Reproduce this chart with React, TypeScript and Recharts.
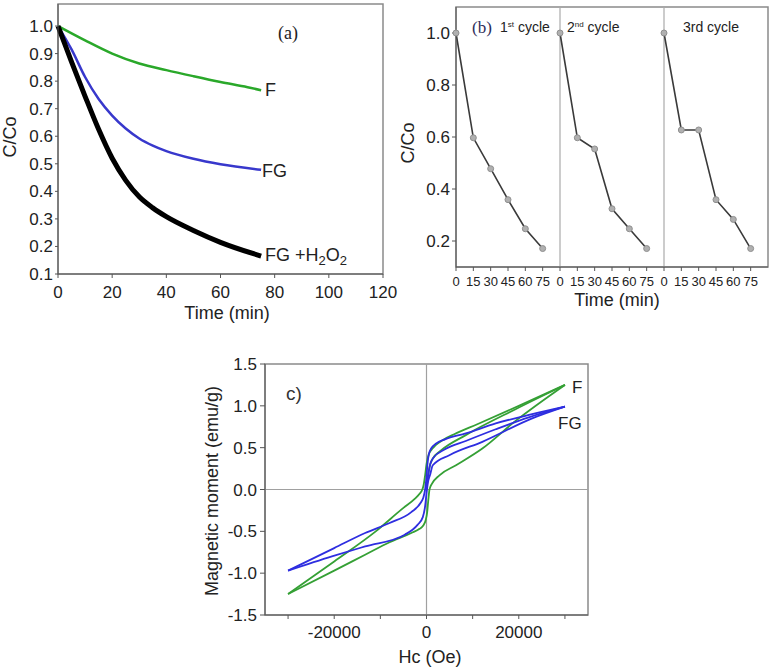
import React from 'react';
import { LineChart, Line, XAxis, YAxis, ReferenceArea, ReferenceLine } from 'recharts';

// ---------- Panel (a): degradation curves ----------
const A_F_TIME = [0, 10, 20, 30, 40, 50, 60, 70, 75];
const A_F_VAL = [1.0, 0.948, 0.9, 0.864, 0.84, 0.818, 0.797, 0.778, 0.767];
const A_FG_TIME = [0, 5, 10, 15, 20, 25, 30, 35, 40, 50, 60, 75];
const A_FG_VAL = [1.0, 0.915, 0.815, 0.735, 0.675, 0.628, 0.592, 0.566, 0.546, 0.518, 0.498, 0.478];
const A_FGH_TIME = [0, 5, 10, 15, 20, 25, 30, 35, 40, 50, 60, 75];
const A_FGH_VAL = [1.0, 0.87, 0.745, 0.625, 0.52, 0.44, 0.38, 0.34, 0.308, 0.258, 0.215, 0.165];
const A_X_TICKS = [0, 20, 40, 60, 80, 100, 120];
const A_Y_TICKS = [0.1, 0.2, 0.3, 0.4, 0.5, 0.6, 0.7, 0.8, 0.9, 1.0];

// ---------- Panel (b): recycling ----------
const B_TIME = [0, 15, 30, 45, 60, 75];
const B_CYCLE1 = [1.0, 0.597, 0.478, 0.359, 0.247, 0.171];
const B_CYCLE2 = [1.0, 0.597, 0.554, 0.324, 0.247, 0.171];
const B_CYCLE3 = [1.0, 0.627, 0.627, 0.359, 0.283, 0.171];
const B_CYCLE_SPAN = 90;
const B_Y_TICKS = [0.2, 0.4, 0.6, 0.8, 1.0];

// ---------- Panel (c): hysteresis loops ----------
const F_DESC_H = [-30000, -20000, -11000, -5000, -2500, -1500, -900, -600, -300, 0, 200, 500, 1000, 2000, 3500, 6000, 11000, 20000, 30000];
const F_DESC_M = [-1.25, -0.86, -0.5, -0.22, -0.11, -0.05, 0.0, 0.06, 0.17, 0.3, 0.36, 0.42, 0.47, 0.53, 0.59, 0.66, 0.78, 1.0, 1.25];
const F_ASC_H = [-30000, -20000, -13300, -8000, -3300, -1500, -700, -200, 150, 400, 650, 1200, 2800, 6400, 12100, 19300, 30000];
const F_ASC_M = [-1.25, -0.97, -0.78, -0.63, -0.52, -0.47, -0.43, -0.37, -0.27, -0.12, 0.0, 0.07, 0.17, 0.29, 0.49, 0.82, 1.25];
const F_INIT_H = [0, 300, 700, 1360, 3000, 8500, 19300, 30000];
const F_INIT_M = [0, 0.15, 0.28, 0.37, 0.46, 0.65, 0.96, 1.25];
const FG_DESC_H = [-30000, -20000, -13300, -8000, -3300, -1150, -700, -300, 0, 200, 500, 1000, 2100, 4000, 8500, 15000, 22900, 30000];
const FG_DESC_M = [-0.97, -0.7, -0.52, -0.4, -0.27, -0.15, -0.1, 0.0, 0.15, 0.3, 0.42, 0.49, 0.55, 0.6, 0.67, 0.79, 0.9, 0.99];
const FG_ASC_H = [-30000, -20500, -13300, -4700, -1900, -800, -300, 0, 300, 800, 1360, 4950, 12100, 22900, 30000];
const FG_ASC_M = [-0.97, -0.8, -0.68, -0.54, -0.42, -0.33, -0.2, -0.05, 0.08, 0.18, 0.29, 0.41, 0.57, 0.85, 0.99];
const FG_INIT_H = [0, 300, 800, 1500, 4000, 8500, 15000, 22000, 30000];
const FG_INIT_M = [0, 0.15, 0.3, 0.38, 0.48, 0.58, 0.72, 0.86, 0.99];
const C_X_TICKS = [-30000, -20000, -10000, 0, 10000, 20000, 30000];
const C_Y_TICKS = [-1.5, -1.0, -0.5, 0, 0.5, 1.0, 1.5];

const zip = (xs: number[], ys: number[]) => xs.map((x, i) => ({ x, y: ys[i] }));

const SANS = "Arial, 'Liberation Sans', Helvetica, sans-serif";
const SERIF = "'Times New Roman', 'Liberation Serif', serif";
const GREEN_A = '#2aa82a';
const BLUE_A = '#3838cc';
const GREEN_C = '#35a035';
const BLUE_C = '#2e2ee0';
const AXIS = '#555';
const FRAME = '#8a8a8a';

const tickStyle = (size: number) => ({ fill: '#222', fontSize: size, fontFamily: SANS });

const Txt: React.FC<{ x: number; y: number; size: number; rotate?: boolean; family?: string; color?: string; children: React.ReactNode; anchor?: 'left' | 'center' }> = ({ x, y, size, rotate, family, color, children, anchor = 'left' }) => (
  <div
    style={{
      position: 'absolute',
      left: x,
      top: y,
      fontSize: size,
      fontFamily: family || SANS,
      color: color || '#222',
      lineHeight: 1,
      whiteSpace: 'nowrap',
      transform: anchor === 'center' ? `translate(-50%, -50%)${rotate ? ' rotate(-90deg)' : ''}` : 'translate(0, -50%)',
    }}
  >
    {children}
  </div>
);

export default function App() {
  const bTicks: number[] = [];
  [0, 1, 2].forEach((c) => B_TIME.forEach((t) => bTicks.push(c * B_CYCLE_SPAN + t)));
  const cycles = [B_CYCLE1, B_CYCLE2, B_CYCLE3].map((vals, c) => B_TIME.map((t, i) => ({ x: c * B_CYCLE_SPAN + t, y: vals[i] })));

  return (
    <div style={{ position: 'absolute', left: 0, top: 0, width: 780, height: 671, background: '#fff', overflow: 'hidden' }}>
      {/* Panel (a) */}
      <div style={{ position: 'absolute', left: 0, top: 0 }}>
        <LineChart width={400} height={330} margin={{ top: 4, right: 17, bottom: 26, left: 0 }}>
          <XAxis type="number" dataKey="x" domain={[0, 120]} ticks={A_X_TICKS} height={30} tickSize={4} tickMargin={8}
            stroke={AXIS} tick={tickStyle(17)} interval={0} />
          <YAxis type="number" dataKey="y" domain={[0.1, 1.08]} ticks={A_Y_TICKS} width={58} tickSize={3} tickMargin={2}
            stroke={AXIS} tick={tickStyle(17)} interval={0} tickFormatter={(v: number) => v.toFixed(1)} allowDataOverflow />
          <ReferenceArea x1={0} x2={120} y1={0.1} y2={1.08} fill="none" stroke={FRAME} strokeWidth={1.5} ifOverflow="visible" />
          <Line data={zip(A_F_TIME, A_F_VAL)} dataKey="y" type="monotone" stroke={GREEN_A} strokeWidth={2.5} dot={false} isAnimationActive={false} />
          <Line data={zip(A_FG_TIME, A_FG_VAL)} dataKey="y" type="monotone" stroke={BLUE_A} strokeWidth={2.5} dot={false} isAnimationActive={false} />
          <Line data={zip(A_FGH_TIME, A_FGH_VAL)} dataKey="y" type="monotone" stroke="#000" strokeWidth={5} dot={false} isAnimationActive={false} />
        </LineChart>
      </div>
      <Txt x={278} y={33} size={18} family={SERIF}>(a)</Txt>
      <Txt x={265} y={90} size={18}>F</Txt>
      <Txt x={262} y={171} size={18}>FG</Txt>
      <Txt x={265} y={256} size={18}>FG +H<sub style={{ fontSize: 13, verticalAlign: -4 }}>2</sub>O<sub style={{ fontSize: 13, verticalAlign: -4 }}>2</sub></Txt>
      <Txt x={10} y={137} size={18} rotate anchor="center">C/Co</Txt>
      <Txt x={227} y={313} size={18} anchor="center">Time (min)</Txt>

      {/* Panel (b) */}
      <div style={{ position: 'absolute', left: 390, top: 0 }}>
        <LineChart width={390} height={320} margin={{ top: 7, right: 12, bottom: 28, left: 0 }}>
          <XAxis type="number" dataKey="x" domain={[0, 3 * B_CYCLE_SPAN]} ticks={bTicks} height={25} tickSize={4} tickMargin={6}
            stroke={AXIS} tick={tickStyle(13)} interval={0} tickFormatter={(v: number) => String(v % B_CYCLE_SPAN)} />
          <YAxis type="number" dataKey="y" domain={[0.1, 1.1]} ticks={B_Y_TICKS} width={66} tickSize={4} tickMargin={2}
            stroke={AXIS} tick={tickStyle(17)} interval={0} tickFormatter={(v: number) => v.toFixed(1)} allowDataOverflow />
          <ReferenceArea x1={0} x2={3 * B_CYCLE_SPAN} y1={0.1} y2={1.1} fill="none" stroke={FRAME} strokeWidth={1.5} ifOverflow="visible" />
          <ReferenceLine x={B_CYCLE_SPAN} stroke="#aaa" strokeWidth={1.2} />
          <ReferenceLine x={2 * B_CYCLE_SPAN} stroke="#aaa" strokeWidth={1.2} />
          {cycles.map((d, i) => (
            <Line key={i} data={d} dataKey="y" type="linear" stroke="#3a3a3a" strokeWidth={1.6}
              dot={{ r: 3, fill: '#b0b0b0', stroke: '#909090', strokeWidth: 1 }} isAnimationActive={false} />
          ))}
        </LineChart>
      </div>
      <Txt x={472} y={27} size={17} family={SERIF} color="#2d2d5a">(b)</Txt>
      <Txt x={500} y={27} size={14}>1<sup style={{ fontSize: 8, verticalAlign: 5 }}>st</sup> cycle</Txt>
      <Txt x={567} y={27} size={14}>2<sup style={{ fontSize: 8, verticalAlign: 5 }}>nd</sup> cycle</Txt>
      <Txt x={683} y={27} size={14}>3rd cycle</Txt>
      <Txt x={408} y={143} size={18} rotate anchor="center">C/Co</Txt>
      <Txt x={617} y={300} size={18} anchor="center">Time (min)</Txt>

      {/* Panel (c) */}
      <div style={{ position: 'absolute', left: 190, top: 320 }}>
        <LineChart width={420} height={351} margin={{ top: 44, right: 22, bottom: 26, left: 0 }}>
          <XAxis type="number" dataKey="x" domain={[-35000, 35000]} ticks={C_X_TICKS} height={30} tickSize={4} tickMargin={7}
            stroke={AXIS} tick={tickStyle(17)} interval={0} tickFormatter={(v: number) => (v % 20000 === 0 ? String(v) : '')} />
          <YAxis type="number" dataKey="y" domain={[-1.5, 1.5]} ticks={C_Y_TICKS} width={75} tickSize={5} tickMargin={3}
            stroke={AXIS} tick={tickStyle(17)} interval={0} tickFormatter={(v: number) => v.toFixed(1)} />
          <ReferenceArea x1={-35000} x2={35000} y1={-1.5} y2={1.5} fill="none" stroke={FRAME} strokeWidth={1.5} ifOverflow="visible" />
          <ReferenceLine y={0} stroke="#a0a0a0" strokeWidth={1.2} />
          <ReferenceLine x={0} stroke="#a0a0a0" strokeWidth={1.2} />
          <Line data={zip(F_DESC_H, F_DESC_M)} dataKey="y" type="monotone" stroke={GREEN_C} strokeWidth={1.8} dot={false} isAnimationActive={false} />
          <Line data={zip(F_ASC_H, F_ASC_M)} dataKey="y" type="monotone" stroke={GREEN_C} strokeWidth={1.8} dot={false} isAnimationActive={false} />
          <Line data={zip(F_INIT_H, F_INIT_M)} dataKey="y" type="monotone" stroke={GREEN_C} strokeWidth={1.8} dot={false} isAnimationActive={false} />
          <Line data={zip(FG_DESC_H, FG_DESC_M)} dataKey="y" type="monotone" stroke={BLUE_C} strokeWidth={1.8} dot={false} isAnimationActive={false} />
          <Line data={zip(FG_ASC_H, FG_ASC_M)} dataKey="y" type="monotone" stroke={BLUE_C} strokeWidth={1.8} dot={false} isAnimationActive={false} />
          <Line data={zip(FG_INIT_H, FG_INIT_M)} dataKey="y" type="monotone" stroke={BLUE_C} strokeWidth={1.8} dot={false} isAnimationActive={false} />
        </LineChart>
      </div>
      <Txt x={286} y={393} size={19} color="#333">c)</Txt>
      <Txt x={572} y={387} size={17}>F</Txt>
      <Txt x={558} y={423} size={17}>FG</Txt>
      <Txt x={212} y={491} size={18} rotate anchor="center">Magnetic moment (emu/g)</Txt>
      <Txt x={430} y={657} size={18} anchor="center">Hc (Oe)</Txt>
    </div>
  );
}
